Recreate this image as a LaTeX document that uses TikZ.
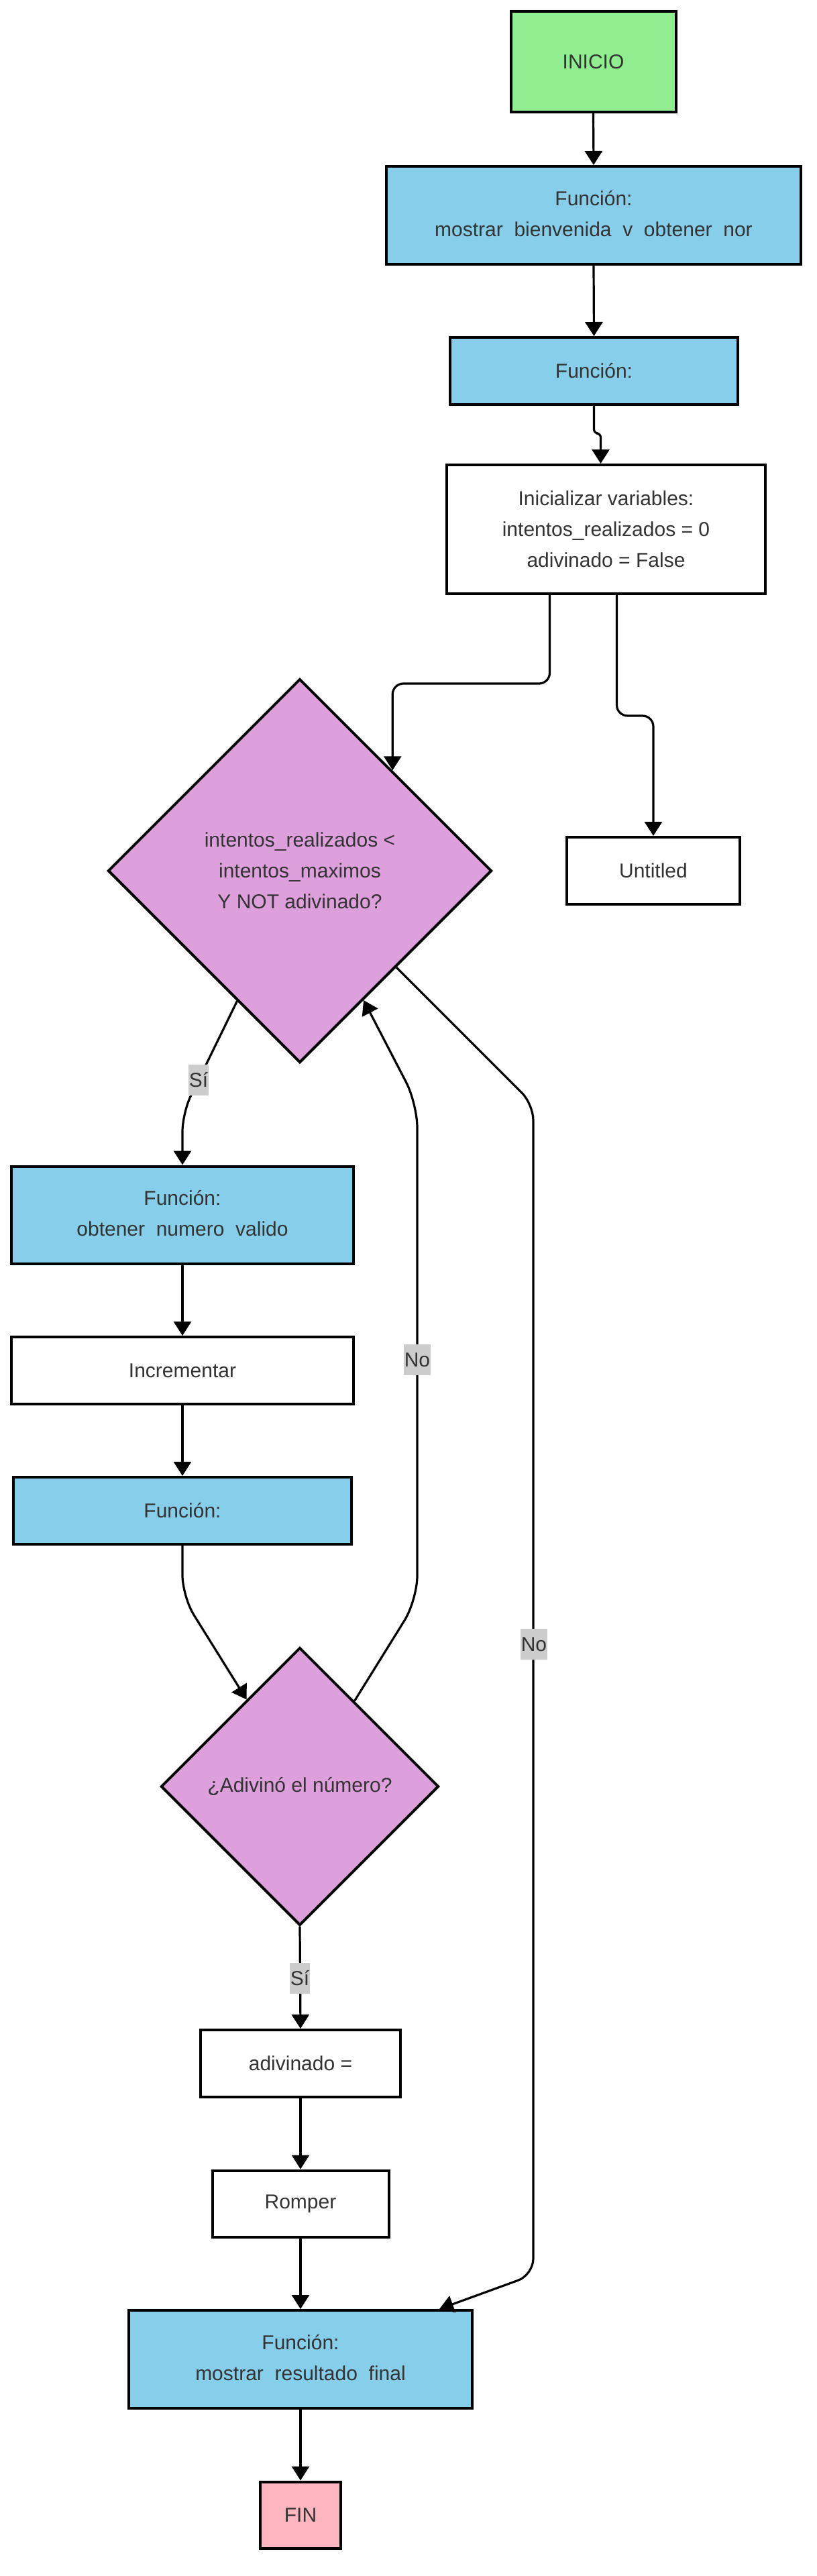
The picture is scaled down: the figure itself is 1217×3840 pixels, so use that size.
\documentclass[tikz,border=0pt]{standalone}
\usepackage{fontspec}
\setmainfont{Liberation Sans}
\usetikzlibrary{shapes.geometric,arrows.meta,calc}
\definecolor{startgreen}{HTML}{90EE90}
\definecolor{funcblue}{HTML}{87CEEB}
\definecolor{decplum}{HTML}{DDA0DD}
\definecolor{endpink}{HTML}{FFB6C1}
\definecolor{textgray}{HTML}{333333}
\definecolor{lblgray}{HTML}{CCCCCC}

\begin{document}
\begin{tikzpicture}[x=0.5pt,y=-0.5pt,
  box/.style={draw=black,line width=2pt,rectangle,inner sep=0pt,align=center,text=textgray,font=\fontsize{15}{23}\selectfont},
  func/.style={box,fill=funcblue},
  dec/.style={box,diamond,fill=decplum,aspect=1},
  flow/.style={draw=black,line width=1.6pt,-{Triangle[length=10.5pt,width=13pt]}},
  lbl/.style={fill=lblgray,text=textgray,inner xsep=0.5pt,inner ysep=0pt,minimum height=23pt,font=\fontsize{15}{18}\selectfont}]
\fill[white] (0,0) rectangle (1217,3840);
\useasboundingbox (0,0) rectangle (1217,3840);
\node[box,fill=startgreen,minimum width=123pt,minimum height=75pt] (inicio) at (884.5,92) {INICIO};
\node[func,minimum width=309pt,minimum height=73pt] (fbienv) at (885,321) {Función:\\mostrar\phantom{\_}bienvenida\phantom{\_}v\phantom{\_}obtener\phantom{\_}nor};
\node[func,minimum width=214.5pt,minimum height=50pt] (finit) at (885.5,553) {Función:};
\node[box,fill=white,minimum width=237.5pt,minimum height=96pt] (init) at (903.5,789) {Inicializar variables:\\intentos\_realizados = 0\\adivinado = False};
\node[dec,minimum width=286pt,minimum height=286pt] (cond) at (447,1298) {intentos\_realizados <\\intentos\_maximos\\Y NOT adivinado?};
\node[box,fill=white,minimum width=129pt,minimum height=50pt] (untitled) at (974,1298) {Untitled};
\node[func,minimum width=255pt,minimum height=72.5pt] (fobtener) at (272,1811) {Función:\\obtener\phantom{\_}numero\phantom{\_}valido};
\node[box,fill=white,minimum width=255pt,minimum height=50pt] (incr) at (272,2043) {Incrementar};
\node[func,minimum width=252pt,minimum height=50pt] (fcheck) at (272,2252) {Función:};
\node[dec,minimum width=207pt,minimum height=207pt] (guess) at (447,2663) {¿Adivinó el número?};
\node[box,fill=white,minimum width=149pt,minimum height=50pt] (setflag) at (448,3076) {adivinado =};
\node[box,fill=white,minimum width=131.5pt,minimum height=49.5pt] (romper) at (448,3285) {Romper};
\node[func,minimum width=256pt,minimum height=73pt] (fresult) at (448,3517) {Función:\\mostrar\phantom{\_}resultado\phantom{\_}final};
\node[box,fill=endpink,minimum width=60pt,minimum height=49.5pt] (fin) at (448,3749) {FIN};
\draw[flow] (inicio.south) -- (fbienv.north);
\draw[flow] (fbienv.south) -- (finit.north);
\draw[flow,rounded corners=3pt] (finit.south) |- ($(init.north)+(-8,-45)$) -- ($(init.north)+(-8,0)$);
\draw[flow,rounded corners=8pt] ($(init.south)+(-84,0)$) -- ++(0,132) -| ($(cond.north)!0.48!(cond.east)$);
\draw[flow,rounded corners=8pt] ($(init.south)+(16,0)$) -- ++(0,180) -| (untitled.north);
\draw[flow,rounded corners=14pt] ($(cond.west)!0.675!(cond.south)$) -- (272,1659) -- (fobtener.north);
\draw[flow] (fobtener.south) -- (incr.north);
\draw[flow] (incr.south) -- (fcheck.north);
\draw[flow,rounded corners=16pt] (fcheck.south) -- (272,2380) -- ($(guess.north)!0.38!(guess.west)$);
\draw[flow,rounded corners=18pt] ($(guess.north)!0.39!(guess.east)$) -- (622,2385) -- (622,1645) -- ($(cond.south)!0.33!(cond.east)$);
\draw[flow,rounded corners=12pt] (cond.south east) -- (795,1646) -- (795,3391) -- ($(fresult.north east)+(-51,0)$);
\draw[flow] (guess.south) -- (setflag.north);
\draw[flow] (setflag.south) -- (romper.north);
\draw[flow] (romper.south) -- (fresult.north);
\draw[flow] (fresult.south) -- (fin.north);
\node[lbl] (si1) at (296,1610) {Sí};
\node[lbl] (no1) at (622,2027) {No};
\node[lbl] (no2) at (796,2451) {No};
\node[lbl] (si2) at (447,2949) {Sí};
\end{tikzpicture}
\end{document}
